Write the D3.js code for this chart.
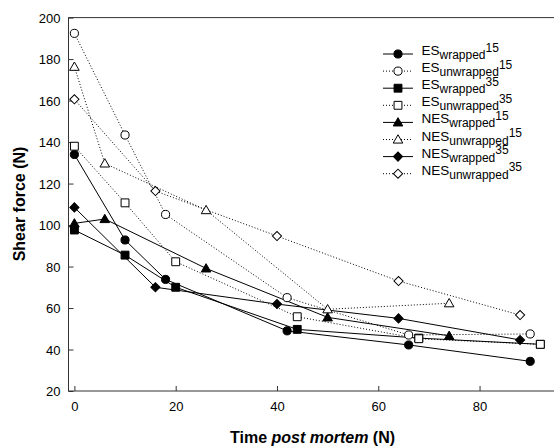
<!DOCTYPE html>
<html><head><meta charset="utf-8">
<script src="https://cdn.jsdelivr.net/npm/d3@7"></script>
<style>body{margin:0;background:#fff}svg{display:block;font-family:"Liberation Sans",Arial,sans-serif}</style>
</head><body><svg id="c" width="554" height="446"></svg>
<script>
const xES15 = [0, 10, 18, 42, 66, 90];
const xES35 = [0, 10, 20, 44, 68, 92];
const xNES15 = [0, 6, 26, 50, 74];
const xNES35 = [0, 16, 40, 64, 88];
const esWrapped15 = [134, 92.8, 73.8, 49, 42.2, 34.3];
const esUnwrapped15 = [192.4, 143.4, 105.1, 65, 47, 47.5];
const esWrapped35 = [97.6, 85.5, 70, 49.7, 45.5, 42.5];
const esUnwrapped35 = [138, 110.7, 82.3, 55.8, 45.2, 42.5];
const nesWrapped15 = [100.8, 102.9, 79.1, 55.5, 46.6];
const nesUnwrapped15 = [176.3, 129.7, 107.2, 59.4, 62.3];
const nesWrapped35 = [108.5, 70, 61.9, 55, 44.6];
const nesUnwrapped35 = [160.6, 116.4, 94.7, 73, 56.6];
const xTicks = [0, 20, 40, 60, 80];
const yTicks = [20, 40, 60, 80, 100, 120, 140, 160, 180, 200];

const series = [
  {pre:"ES", sub:"wrapped", sup:"15", x:xES15, y:esWrapped15, sym:"circle", filled:true},
  {pre:"ES", sub:"unwrapped", sup:"15", x:xES15, y:esUnwrapped15, sym:"circle", filled:false},
  {pre:"ES", sub:"wrapped", sup:"35", x:xES35, y:esWrapped35, sym:"square", filled:true},
  {pre:"ES", sub:"unwrapped", sup:"35", x:xES35, y:esUnwrapped35, sym:"square", filled:false},
  {pre:"NES", sub:"wrapped", sup:"15", x:xNES15, y:nesWrapped15, sym:"triangle", filled:true},
  {pre:"NES", sub:"unwrapped", sup:"15", x:xNES15, y:nesUnwrapped15, sym:"triangle", filled:false},
  {pre:"NES", sub:"wrapped", sup:"35", x:xNES35, y:nesWrapped35, sym:"diamond", filled:true},
  {pre:"NES", sub:"unwrapped", sup:"35", x:xNES35, y:nesUnwrapped35, sym:"diamond", filled:false}
];

const svg = d3.select("#c");
const L = 68.5, R = 554, T = 17.6, B = 391;
const x = d3.scaleLinear().domain([-1.165, 94.7]).range([L, R]);
const y = d3.scaleLinear().domain([20, 200]).range([B, T]);

function symPath(s) {
  if (s === "circle") return d3.symbol(d3.symbolCircle, 52)();
  if (s === "square") return d3.symbol(d3.symbolSquare, 62)();
  if (s === "triangle") return d3.symbol(d3.symbolTriangle, 40)();
  return d3.symbol(d3.symbolSquare, 42)();
}
function drawMarker(g, s, filled, px, py) {
  g.append("path").attr("d", symPath(s))
    .attr("transform", `translate(${px},${py})` + (s === "diamond" ? " rotate(45)" : "") + (s === "triangle" ? " translate(0,0.8)" : ""))
    .attr("fill", filled ? "#000" : "#fff").attr("stroke", "#000").attr("stroke-width", 1);
}

// axes
const gx = svg.append("g").attr("transform", `translate(0,${B})`)
  .call(d3.axisBottom(x).tickValues(xTicks).tickSize(-5).tickPadding(11).tickFormat(d3.format("d")));
const gy = svg.append("g").attr("transform", `translate(${L},0)`)
  .call(d3.axisLeft(y).tickValues(yTicks).tickSize(-5).tickPadding(8).tickFormat(d3.format("d")));
[gx, gy].forEach(g => {
  g.select(".domain").remove();
  g.selectAll("line").attr("stroke", "#333");
  g.selectAll("text").attr("font-size", "13px").attr("fill", "#000").attr("font-family", "Liberation Sans, Arial, sans-serif");
});
gy.selectAll("text").attr("dy", "0.35em");
svg.append("rect").attr("x", L).attr("y", T).attr("width", R - L + 5).attr("height", B - T)
  .attr("fill", "none").attr("stroke", "#333").attr("stroke-width", 1);

// lines
const line = d3.line();
series.forEach(s => {
  const pts = s.x.map((v, i) => [x(v), y(s.y[i])]);
  svg.append("path").attr("d", line(pts)).attr("fill", "none").attr("stroke", "#000")
    .attr("stroke-width", 1).attr("stroke-dasharray", s.filled ? null : "1,2");
});
// markers
series.forEach(s => {
  const g = svg.append("g");
  s.x.forEach((v, i) => drawMarker(g, s.sym, s.filled, x(v), y(s.y[i])));
});

// legend
const lg = svg.append("g");
series.forEach((s, i) => {
  const ry = 54 + i * 17.1;
  lg.append("line").attr("x1", 383).attr("x2", 413).attr("y1", ry).attr("y2", ry)
    .attr("stroke", "#000").attr("stroke-width", 1).attr("stroke-dasharray", s.filled ? null : "1,2");
  drawMarker(lg, s.sym, s.filled, 398, ry);
  const t = lg.append("text").attr("x", 421.5).attr("y", ry + 1).attr("font-size", "13.5px").attr("fill", "#000");
  t.append("tspan").text(s.pre);
  t.append("tspan").attr("y", ry + 5).attr("font-size", "12px").text(s.sub);
  t.append("tspan").attr("y", ry - 2.5).attr("font-size", "12px").text(s.sup);
});

// titles
const xt = svg.append("text").attr("x", 312.5).attr("y", 443).attr("text-anchor", "middle")
  .attr("font-size", "16px").attr("font-weight", "bold").attr("fill", "#000");
xt.append("tspan").text("Time ");
xt.append("tspan").attr("font-style", "italic").text("post mortem");
xt.append("tspan").text(" (N)");
svg.append("text").attr("transform", "translate(24.5,204) rotate(-90)").attr("text-anchor", "middle")
  .attr("font-size", "16px").attr("font-weight", "bold").attr("fill", "#000").text("Shear force (N)");
</script></body></html>
